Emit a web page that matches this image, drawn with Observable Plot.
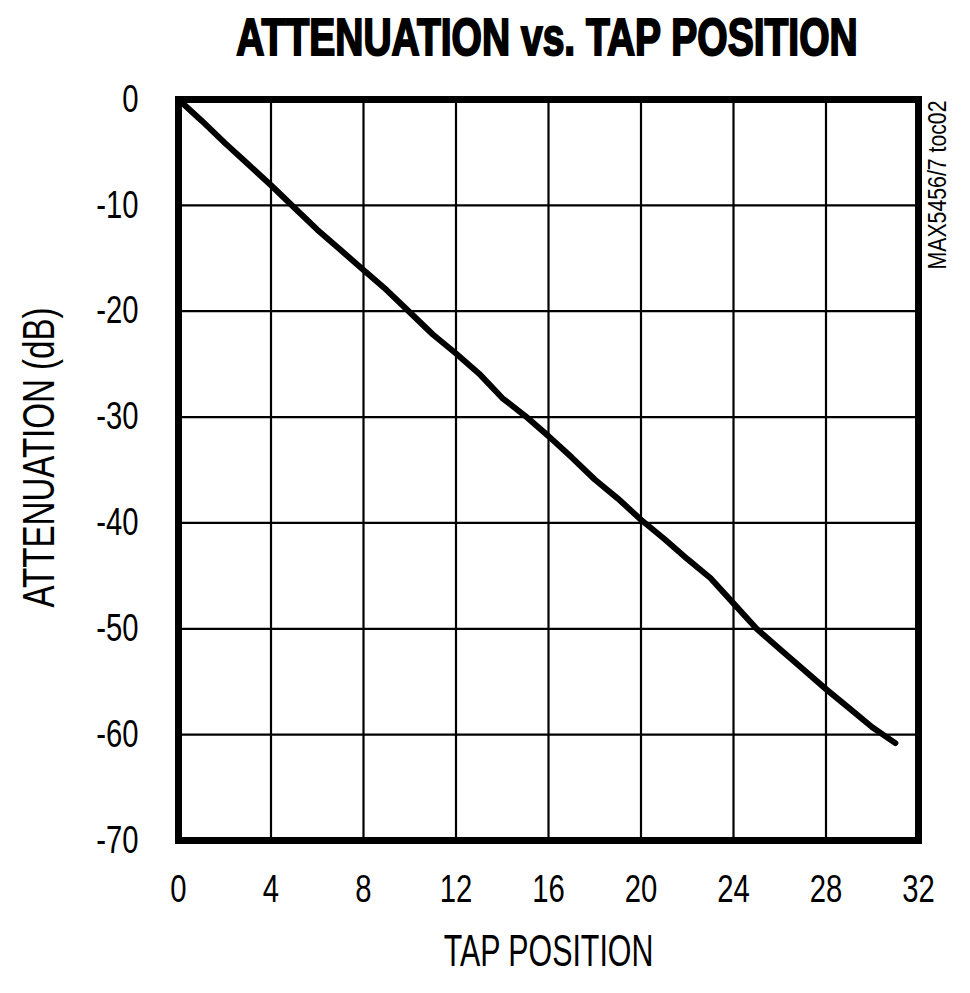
<!DOCTYPE html>
<html>
<head>
<meta charset="utf-8">
<script src="https://cdn.jsdelivr.net/npm/d3@7"></script>
<script src="https://cdn.jsdelivr.net/npm/@observablehq/plot@0.6"></script>
<style>
  html, body { margin: 0; padding: 0; background: white; }
  #wrap { width: 970px; height: 993px; position: relative; background: white; overflow: hidden; }
  #title {
    height: 80px; box-sizing: border-box; padding-top: 12px;
    font-family: "Liberation Sans", Arial, sans-serif;
    font-weight: bold; font-size: 51px; line-height: 1;
    -webkit-text-stroke: 2px black;
    white-space: nowrap; position: relative;
  }
  #title span { position: absolute; left: 547px; transform: translateX(-50%) scaleX(0.765); }
  svg { display: block; }
</style>
</head>
<body>
<div id="wrap">
  <div id="title"><span>ATTENUATION vs. TAP POSITION</span></div>
  <div id="chart"></div>
</div>
<script>
const taps = [0,1,2,3,4,5,6,7,8,9,10,11,12,13,14,15,16,17,18,19,20,21,22,23,24,25,26,27,28,29,30,31];
const attenuation = [0,-2,-4.1,-6.1,-8.1,-10.2,-12.3,-14.2,-16.1,-18,-20.1,-22.2,-24.0,-25.9,-28.2,-29.9,-31.8,-33.8,-35.9,-37.7,-39.7,-41.5,-43.4,-45.2,-47.6,-50,-51.9,-53.8,-55.7,-57.5,-59.3,-60.8];
const xTicks = [0,4,8,12,16,20,24,28,32];
const yTicks = [0,-10,-20,-30,-40,-50,-60,-70];
const xLabel = "TAP POSITION";
const yLabel = "ATTENUATION (dB)";
const note = "MAX5456/7 toc02";

const data = taps.map((t, i) => ({tap: t, att: attenuation[i]}));
const font = "Liberation Sans, Arial, sans-serif";

const chart = Plot.plot({
  width: 970,
  height: 913,
  marginLeft: 178,
  marginRight: 52,
  marginTop: 19,
  marginBottom: 153,
  x: {domain: [0, 32]},
  y: {domain: [-70, 0]},
  style: {fontFamily: font, fontSize: "38px", color: "black", background: "white", overflow: "visible"},
  marks: [
    Plot.gridX(xTicks.slice(1, -1), {stroke: "black", strokeOpacity: 1, strokeWidth: 2.2}),
    Plot.gridY(yTicks.slice(1, -1), {stroke: "black", strokeOpacity: 1, strokeWidth: 2.2}),
    Plot.line(data, {x: "tap", y: "att", stroke: "black", strokeWidth: 6, strokeLinejoin: "round"}),
    Plot.frame({stroke: "black", strokeWidth: 7}),
    Plot.axisX(xTicks, {tickSize: 0, tickPadding: 35, fontSize: 38, label: null, tickFormat: d => String(d)}),
    Plot.axisY(yTicks, {tickSize: 0, tickPadding: 40, fontSize: 38, label: null, tickFormat: d => String(d)}),
    Plot.text([xLabel], {frameAnchor: "bottom", dy: 111, fontSize: 44, lineAnchor: "middle", textAnchor: "middle", fill: "black"}),
    Plot.text([yLabel], {frameAnchor: "left", rotate: -90, dx: -138.5, dy: -12.5, fontSize: 45, lineAnchor: "middle", textAnchor: "middle", fill: "black"}),
    Plot.text([note], {frameAnchor: "top-right", rotate: -90, textAnchor: "end", dx: 19, dy: 1, fontSize: 25, lineAnchor: "middle", fill: "black"})
  ]
});
document.getElementById("chart").appendChild(chart);

// condense the text horizontally (the reference uses a narrow typeface)
const scales = {[xLabel]: 0.69, [yLabel]: 0.735, [note]: 0.85};
chart.querySelectorAll("text").forEach(t => {
  const s = scales[t.textContent] ?? 0.77;
  const L = t.getComputedTextLength();
  if (L > 0) {
    t.setAttribute("textLength", (L * s).toFixed(2));
    t.setAttribute("lengthAdjust", "spacingAndGlyphs");
  }
});
</script>
</body>
</html>
